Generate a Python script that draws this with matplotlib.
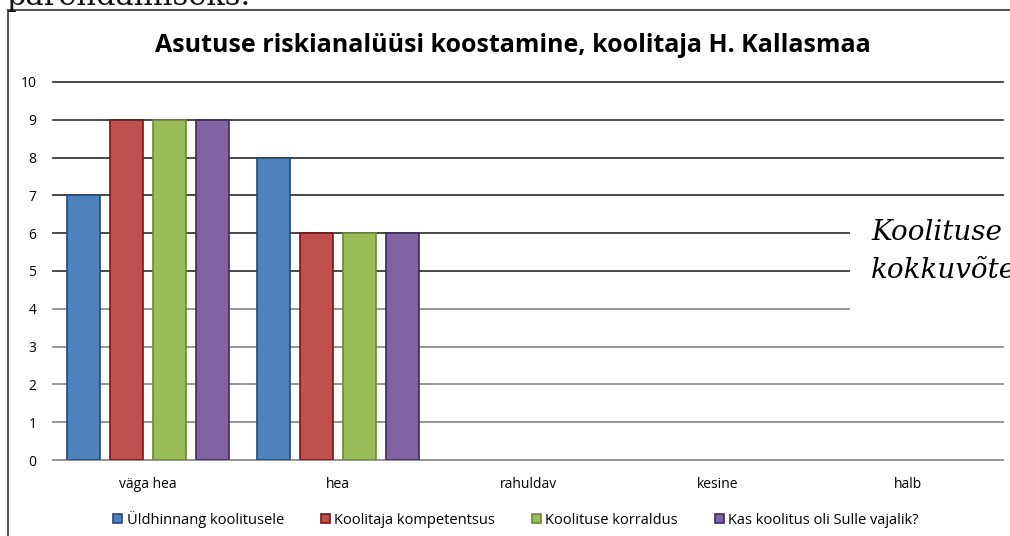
import numpy as np
import matplotlib
matplotlib.use("Agg")
import matplotlib.pyplot as plt
from matplotlib.lines import Line2D
from matplotlib.patches import Rectangle

# data
categories = ["väga hea", "hea", "rahuldav", "kesine", "halb"]
series_names = ["Üldhinnang koolitusele", "Koolitaja kompetentsus",
                "Koolituse korraldus", "Kas koolitus oli Sulle vajalik?"]
yldhinnang = [7, 8, 0, 0, 0]
kompetentsus = [9, 6, 0, 0, 0]
korraldus = [9, 6, 0, 0, 0]
vajalik = [9, 6, 0, 0, 0]
values = [yldhinnang, kompetentsus, korraldus, vajalik]

colors = ["#4F81BD", "#C0504D", "#9BBB59", "#8064A2"]
edges = ["#1F4A7A", "#7A1614", "#6A8A2E", "#3E2A60"]

W, H = 1010, 536
fig = plt.figure(figsize=(W / 100, H / 100), dpi=100)

# chart frame (left and top border)
fig.add_artist(Line2D([8 / W, 8 / W], [0, 1 - 10 / H], color="#555555", lw=1.5))
fig.add_artist(Line2D([8 / W, 1], [1 - 10 / H, 1 - 10 / H], color="#555555", lw=1.5))

# cut-off text from the document above
fig.text(6 / W, 1 + 4 / H, "parendamiseks.", family="DejaVu Serif", fontsize=22,
         va="center", ha="left", color="#111111")

ax = fig.add_axes([53 / W, 1 - 460 / H, 950 / W, 378 / H])
x = np.arange(len(categories))
bw = 33 / 190
pitch = 43 / 190
for i, (vals, c, e, name) in enumerate(zip(values, colors, edges, series_names)):
    vals = np.asarray(vals, dtype=float)
    keep = vals > 0
    ax.bar((x + (i - 1.5) * pitch)[keep], vals[keep], width=bw, color=c,
           edgecolor=e, linewidth=1.2, label=name, zorder=3)

ax.set_xlim(-0.5, len(categories) - 0.5)
ax.set_ylim(0, 10)
ax.set_yticks(range(0, 11))
for t in range(0, 11):
    ax.axhline(t, color="#3c3c3c" if t >= 5 else "#8c8c8c", lw=1.3, zorder=0,
               clip_on=False)
for s in ax.spines.values():
    s.set_visible(False)
ax.tick_params(axis="both", length=0, labelsize=10)
ax.tick_params(axis="y", pad=12)
ax.tick_params(axis="x", pad=12)
ax.set_xticks(x)
ax.set_xticklabels(categories, family="Open Sans", fontsize=10)
for lab in ax.get_yticklabels():
    lab.set_family("Open Sans")

fig.text(513 / W, 1 - 45 / H, "Asutuse riskianalüüsi koostamine, koolitaja H. Kallasmaa",
         ha="center", va="center", fontsize=18, fontweight="bold", family="Open Sans")

leg = fig.legend(loc="center", bbox_to_anchor=(516 / W, 1 - 519 / H), ncol=4,
                 frameon=False, prop={"family": "Open Sans", "size": 10.5},
                 handlelength=0.6, handleheight=0.6, handletextpad=0.3,
                 columnspacing=2.55)

# text box overlapping the chart on the right
fig.add_artist(Rectangle((850 / W, 1 - 322 / H), 160 / W, 120 / H,
                         transform=fig.transFigure, facecolor="white",
                         edgecolor="none", zorder=5))
fig.text(871 / W, 1 - 233 / H, "Koolituse", family="DejaVu Serif", style="italic",
         fontsize=20, va="center", ha="left", zorder=6)
fig.text(871 / W, 1 - 270 / H, "kokkuvõte", family="DejaVu Serif", style="italic",
         fontsize=20, va="center", ha="left", zorder=6)

fig.savefig("out.png", dpi=100)
